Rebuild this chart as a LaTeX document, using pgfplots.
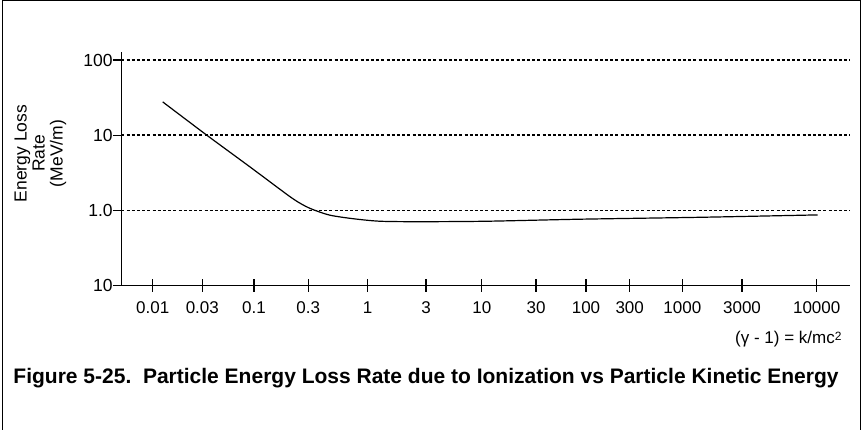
\documentclass[border=0pt]{standalone}
\usepackage{fontspec}
\setmainfont{Liberation Sans}
\usepackage{pgfplots}
\pgfplotsset{compat=1.18}
\begin{document}
\begin{tikzpicture}
\useasboundingbox (0,0) rectangle (862bp,430bp);
\draw[line width=1bp] (2.5bp,-2bp) -- (2.5bp,429.3bp) -- (860.3bp,429.3bp) -- (860.3bp,-2bp);
\begin{axis}[
  at={(121.3bp,144.7bp)}, anchor=south west, scale only axis,
  width=728.7bp, height=233.3bp,
  xmin=121.3, xmax=850, ymode=log, ymin=0.1, ymax=127.9,
  axis x line*=bottom, axis y line*=left,
  axis line style={line width=1.2bp, black},
  xtick={152.7,202.3,254,308.3,367.7,426,481.8,536,586,629.7,682.3,742,816.7},
  xticklabels={0.01,0.03,0.1,0.3,1,\raisebox{-2.5bp}{3},10,\raisebox{-2.5bp}{30},100,300,1000,3000,10000},
  tick align=center, major tick length=13bp,
  xtick style={line width=1.2bp, black},
  ytick={1,10,100}, yticklabels={,,}, ytick style={draw=none}, yminorticks=false,
  ymajorgrids, grid style={line width=1.3bp, dash pattern=on 3bp off 2.2bp, black},
  xticklabel style={anchor=north, inner sep=0pt, yshift=-9.7bp, font=\fontsize{17bp}{20bp}\selectfont},
  clip=false,
]
\addplot[black, line width=1.2bp, smooth, tension=0.45] coordinates {
  (162.7,27.7) (206.7,10.0) (250,3.77) (290,1.514) (303,1.177)
  (313.3,1.015) (330,0.858) (353.3,0.770) (380,0.713) (420,0.703)
  (486.7,0.713) (580,0.759) (703,0.806) (817.7,0.866)
};
\end{axis}
\begin{axis}[
  at={(121.3bp,144.7bp)}, anchor=south west, scale only axis,
  width=728.7bp, height=233.3bp,
  xmin=121.3, xmax=850, ymode=log, ymin=0.1, ymax=127.9,
  axis y line*=left, axis x line=none,
  axis line style={line width=1.2bp, black},
  ytick={0.1,1,10,100}, yticklabels={10,1.0,10,100}, yminorticks=false,
  tick align=outside, major tick length=8.5bp,
  ytick style={line width=1.2bp, black},
  yticklabel style={anchor=east, inner sep=0pt, font=\fontsize{17.5bp}{20bp}\selectfont},
]
\end{axis}
\node[rotate=90, align=center, font=\fontsize{17.5bp}{18bp}\selectfont] at (40.5bp,276.5bp) {Energy Loss\\Rate\\(MeV/m)};
\node[anchor=base east, inner sep=0pt, font=\fontsize{17bp}{20bp}\selectfont] at (841.7bp,86bp) {(γ - 1) = k/mc{\fontsize{12bp}{12bp}\selectfont\raisebox{3bp}{2}}};
\node[anchor=base west, inner sep=0pt, font=\fontsize{21bp}{24bp}\selectfont\bfseries] at (13.3bp,46bp) {Figure 5-25.\ \ Particle Energy Loss Rate due to Ionization vs Particle Kinetic Energy};
\end{tikzpicture}
\end{document}
